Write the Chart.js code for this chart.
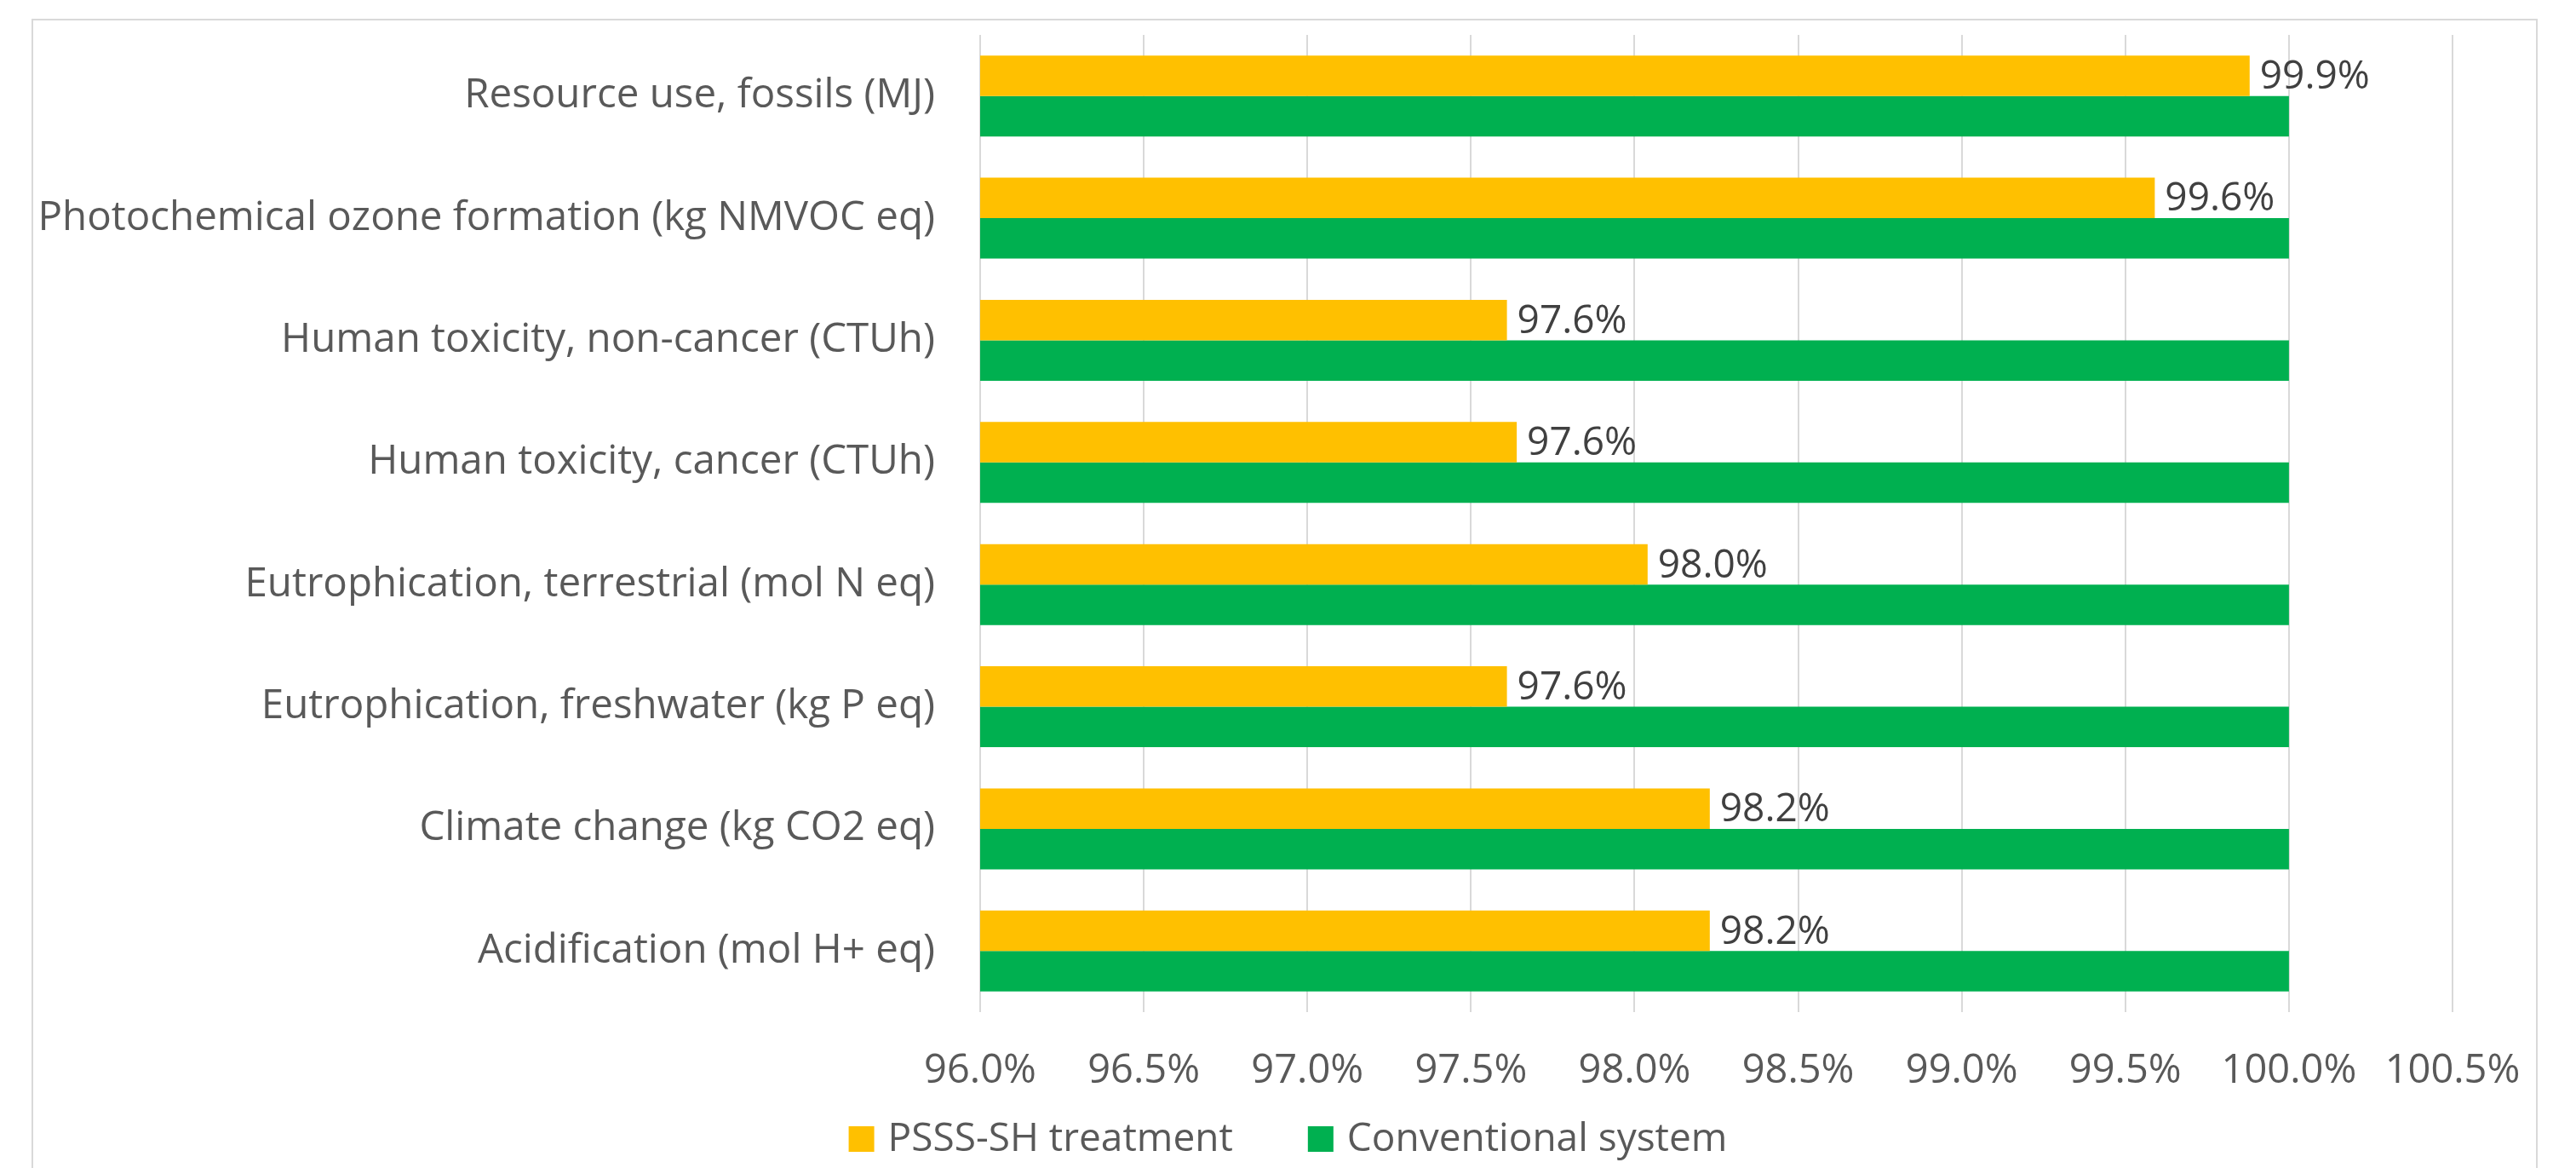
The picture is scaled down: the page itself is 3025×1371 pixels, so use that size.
<!DOCTYPE html>
<html>
<head>
<meta charset="utf-8">
<script src="https://cdn.jsdelivr.net/npm/chart.js@4.4.1/dist/chart.umd.min.js"></script>
<style>
  html, body { margin: 0; padding: 0; background: #fff; }
  #wrap { position: relative; width: 3025px; height: 1371px; overflow: hidden; }
  #frame {
    position: absolute; left: 37px; top: 22px; width: 2943px; height: 1400px;
    border: 2px solid #d9d9d9; box-sizing: border-box;
  }
  #impact-chart { position: absolute; left: 0; top: 0; }
</style>
</head>
<body>
<div id="wrap">
  <div id="frame"></div>
  <canvas id="impact-chart" width="3025" height="1371"></canvas>
</div>
<script>
// Impact categories, top to bottom
const categories = [
  "Resource use, fossils (MJ)",
  "Photochemical ozone formation (kg NMVOC eq)",
  "Human toxicity, non-cancer (CTUh)",
  "Human toxicity, cancer (CTUh)",
  "Eutrophication, terrestrial (mol N eq)",
  "Eutrophication, freshwater (kg P eq)",
  "Climate change (kg CO2 eq)",
  "Acidification (mol H+ eq)"
];

// Relative impact (%) of each system, conventional = 100%
const psssValues = [99.88, 99.59, 97.61, 97.64, 98.04, 97.61, 98.23, 98.23];
const conventionalValues = [100, 100, 100, 100, 100, 100, 100, 100];

const seriesNames = ["PSSS-SH treatment", "Conventional system"];
const seriesColors = ["#FFC000", "#00B050"];

// Axis range for the percentage scale
const axisMin = 96.0;
const axisMax = 100.5;
const axisStep = 0.5;

const FONT = "'Open Sans', 'Liberation Sans', sans-serif";

// Writes the value next to the end of each PSSS-SH bar
const barValueLabels = {
  id: "barValueLabels",
  afterDatasetsDraw(chart) {
    const { ctx } = chart;
    const meta = chart.getDatasetMeta(0);
    ctx.save();
    ctx.font = `46px ${FONT}`;
    ctx.fillStyle = "#404040";
    ctx.textAlign = "left";
    ctx.textBaseline = "middle";
    meta.data.forEach((bar, i) => {
      const v = chart.data.datasets[0].data[i];
      ctx.fillText(v.toFixed(1) + "%", bar.x + 12, bar.y + 2);
    });
    ctx.restore();
  }
};

// Legend row under the axis, centred on the canvas
const bottomLegend = {
  id: "bottomLegend",
  afterDraw(chart) {
    const { ctx } = chart;
    const box = 30, textGap = 16, itemGap = 88, y = 1337;
    ctx.save();
    ctx.font = `46px ${FONT}`;
    ctx.textBaseline = "middle";
    ctx.textAlign = "left";
    const items = chart.data.datasets.map(ds => ({
      label: ds.label,
      color: ds.backgroundColor,
      w: box + textGap + ctx.measureText(ds.label).width
    }));
    const total = items.reduce((s, it) => s + it.w, 0) + itemGap * (items.length - 1);
    let x = (chart.width - total) / 2;
    items.forEach(it => {
      ctx.fillStyle = it.color;
      ctx.fillRect(x, y - box / 2, box, box);
      ctx.fillStyle = "#595959";
      ctx.fillText(it.label, x + box + textGap, y + 1);
      x += it.w + itemGap;
    });
    ctx.restore();
  }
};

const ctx = document.getElementById("impact-chart").getContext("2d");
new Chart(ctx, {
  type: "bar",
  data: {
    labels: categories,
    datasets: [
      {
        label: seriesNames[0],
        data: psssValues,
        backgroundColor: seriesColors[0],
        categoryPercentage: 0.663,
        barPercentage: 1.0
      },
      {
        label: seriesNames[1],
        data: conventionalValues,
        backgroundColor: seriesColors[1],
        categoryPercentage: 0.663,
        barPercentage: 1.0
      }
    ]
  },
  options: {
    indexAxis: "y",
    responsive: false,
    animation: false,
    layout: { padding: { top: 41, right: 145, bottom: 0, left: 0 } },
    plugins: {
      legend: { display: false },
      tooltip: { enabled: false }
    },
    scales: {
      x: {
        type: "linear",
        min: axisMin,
        max: axisMax,
        grid: { color: "#d9d9d9", lineWidth: 2, drawTicks: false },
        border: { display: false },
        ticks: {
          stepSize: axisStep,
          padding: 41,
          color: "#595959",
          font: { family: FONT, size: 47 },
          callback: v => v.toFixed(1) + "%"
        },
        // room below the plot for tick labels and the legend row
        afterFit(scale) { scale.height = 183; }
      },
      y: {
        // tick marks are hidden, their length only spaces the labels from the plot
        grid: { display: false, drawTicks: true, tickLength: 53 },
        border: { display: false },
        ticks: {
          padding: 0,
          color: "#595959",
          font: { family: FONT, size: 47.5 }
        },
        afterFit(scale) { scale.width = 1151; }
      }
    }
  },
  plugins: [barValueLabels, bottomLegend]
});
</script>
</body>
</html>
